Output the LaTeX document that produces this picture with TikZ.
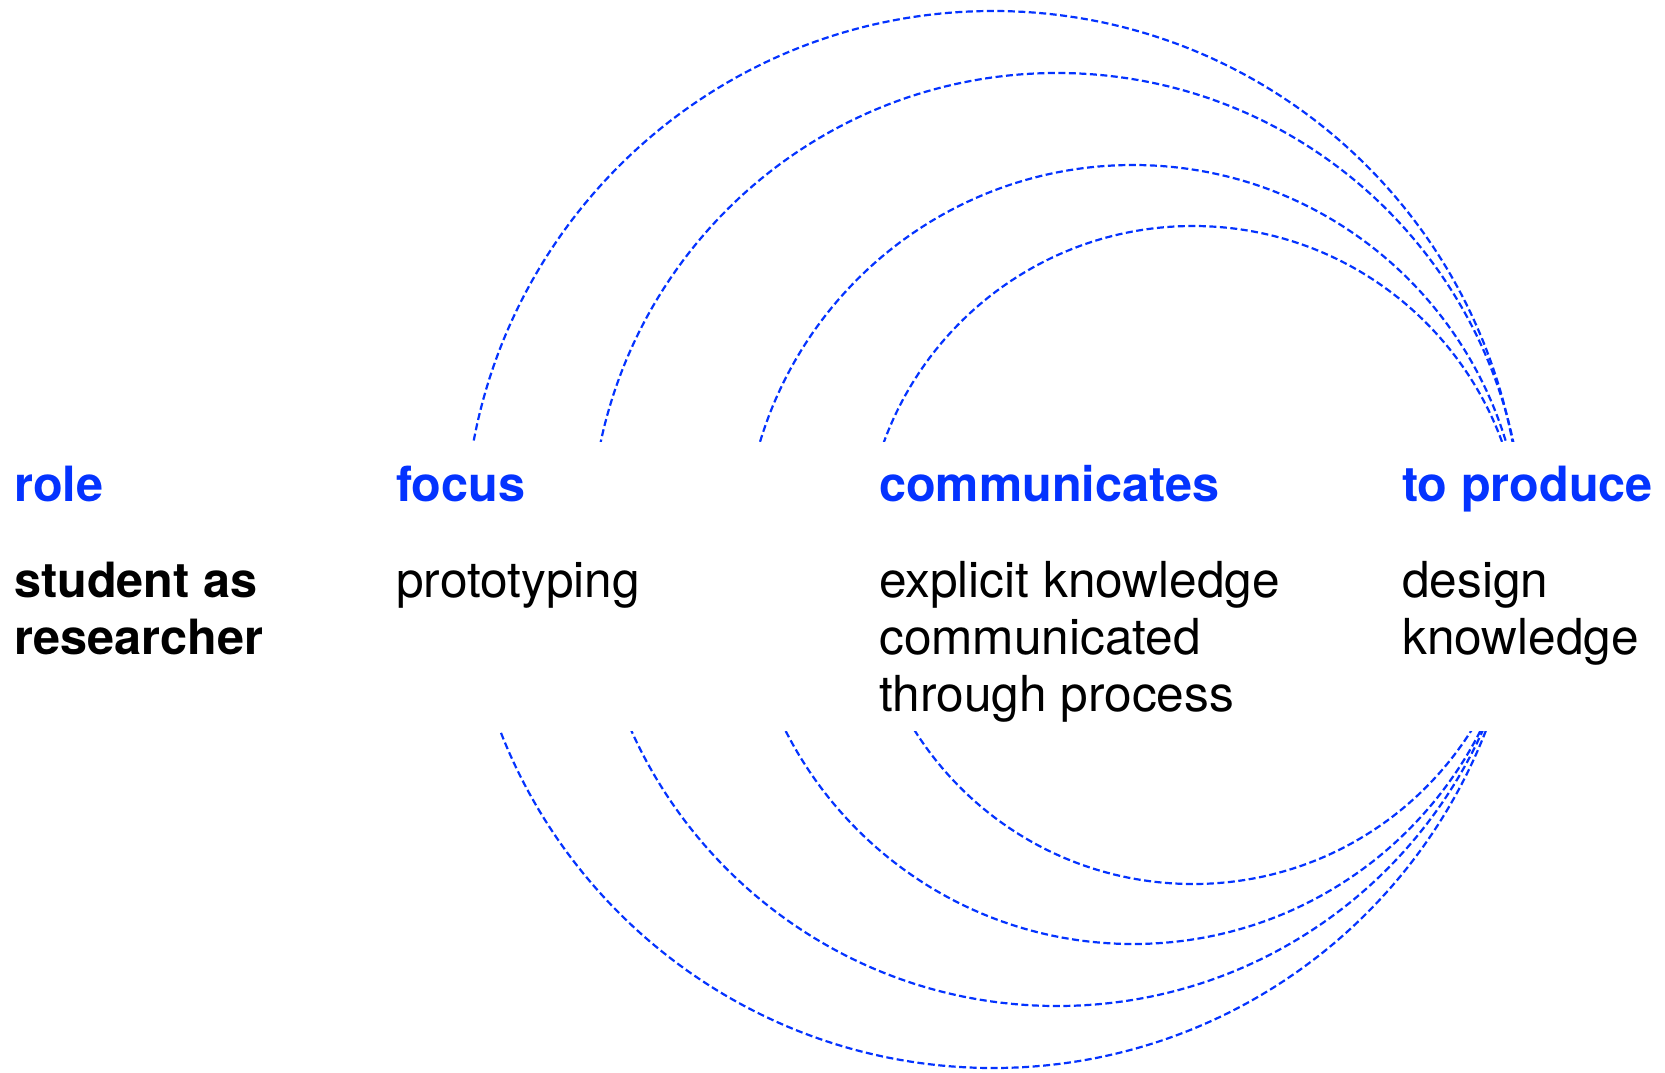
\documentclass[tikz,border=0pt]{standalone}
\usepackage{fontspec}
\setmainfont{TeX Gyre Heros}
\definecolor{refblue}{RGB}{4,51,255}
\tikzset{
  arcline/.style={draw=refblue, line width=2.2pt, dash pattern=on 7pt off 3.5pt},
  head/.style={anchor=base west, inner sep=0pt, text=refblue, font=\fontsize{48.6}{56}\selectfont\bfseries},
  bodybold/.style={anchor=base west, inner sep=0pt, text=black, font=\fontsize{48.6}{56}\selectfont\bfseries},
  body/.style={anchor=base west, inner sep=0pt, text=black, font=\fontsize{49.6}{56}\selectfont},
}
\begin{document}
\begin{tikzpicture}[x=1pt,y=-1pt]
\useasboundingbox (0,0) rectangle (1665,1073);
% upper halves of the circles
\begin{scope}
  \clip (0,0) rectangle (1665,441.7);
  \draw[arcline] (993,539.5) circle [radius=528.5pt];
  \draw[arcline] (1057,539.5) circle [radius=466.5pt];
  \draw[arcline] (1133,554.5) circle [radius=389.5pt];
  \draw[arcline] (1193,555) circle [radius=329pt];
\end{scope}
% lower halves of the circles
\begin{scope}
  \clip (0,731.7) rectangle (1665,1073);
  \draw[arcline] (993,539.5) circle [radius=528.5pt];
  \draw[arcline] (1057,539.5) circle [radius=466.5pt];
  \draw[arcline] (1133,554.5) circle [radius=389.5pt];
  \draw[arcline] (1193,555) circle [radius=329pt];
\end{scope}
% headings
\node[head] (role) at (14,501) {role};
\node[head] (focus) at (396,501) {focus};
\node[head] (comm) at (879,501) {communicates};
\node[head] (prod) at (1402,501) {to produce};
% column texts
\node[bodybold] (roleA) at (14,597) {student as};
\node[bodybold] (roleB) at (14,654) {researcher};
\node[body] (focusA) at (396,597) {prototyping};
\node[body] (commA) at (879,597) {explicit knowledge};
\node[body] (commB) at (879,654) {communicated};
\node[body] (commC) at (879,711) {through process};
\node[body] (prodA) at (1402,597) {design};
\node[body] (prodB) at (1402,654) {knowledge};
\end{tikzpicture}
\end{document}
